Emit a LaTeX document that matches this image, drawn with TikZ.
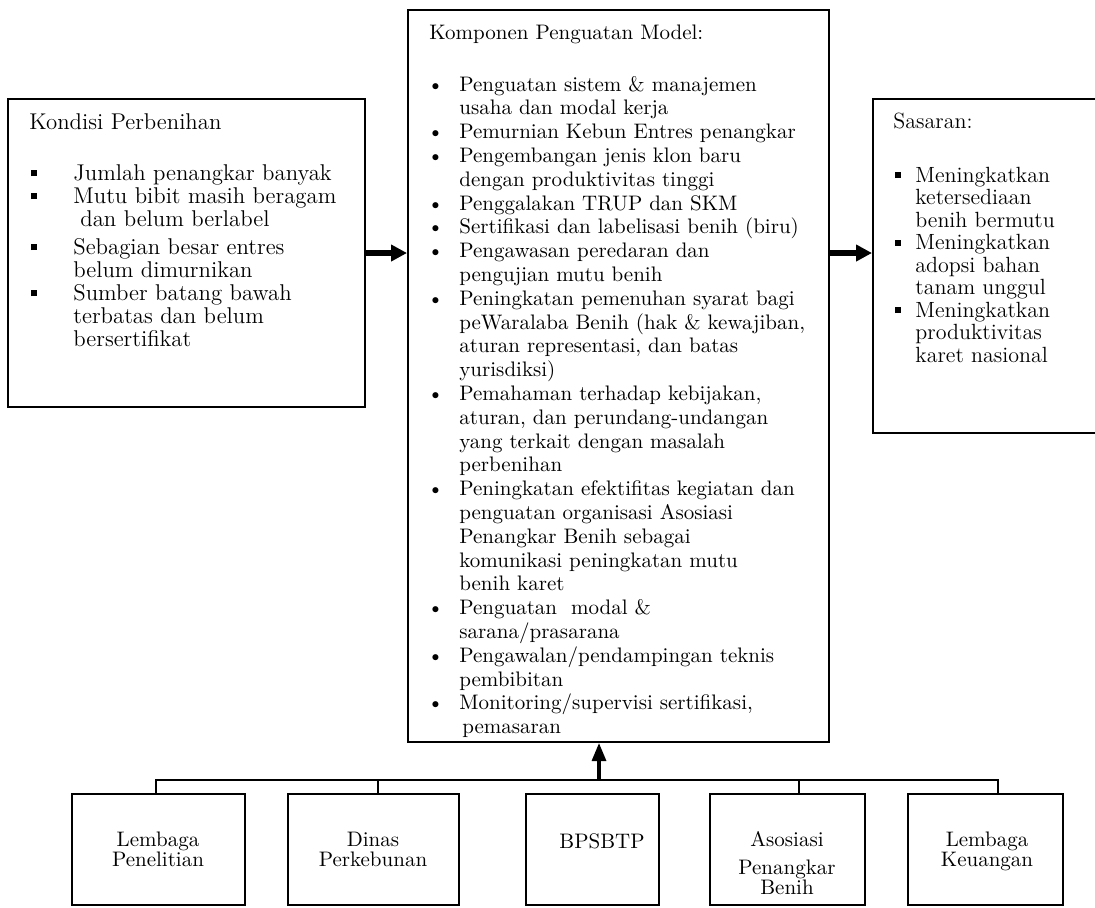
\documentclass[tikz,border=0pt]{standalone}
\usetikzlibrary{arrows.meta}
\tikzset{
  box/.style={draw, line width=1pt, inner sep=0pt},
  txt/.style={anchor=base west, inner sep=0pt},
  btxt/.style={anchor=base, inner sep=0pt},
  fatarrow/.style={line width=2.7pt, -{Triangle[length=8pt,width=8pt]}},
  uparrow/.style={line width=1.6pt, -{Triangle[length=9pt,width=7pt]}},
  bus/.style={line width=1pt},
}
\newcommand{\sqb}{\rule[2pt]{2.9pt}{2.9pt}}
\newcommand{\fLeft}{\fontsize{11.4}{11.5}\selectfont}
\newcommand{\fMid}{\fontsize{10.5}{11.9}\selectfont}
\newcommand{\fRight}{\fontsize{11}{11.25}\selectfont}
\newcommand{\fBot}{\fontsize{10.5}{9.5}\selectfont}
\begin{document}
\begin{tikzpicture}[x=0.5pt,y=-0.5pt]
\useasboundingbox (0,0) rectangle (1095,907);
% main boxes
\node[box, minimum width=178.5pt, minimum height=154pt] (kond) at (186.5,253) {};
\node[box, minimum width=210.5pt, minimum height=366pt] (comp) at (618.5,376) {};
\node[box, minimum width=120pt, minimum height=167pt] (sas) at (993,266) {};
% left text
\node[txt, font=\fLeft] (kondT) at (29,129) {Kondisi Perbenihan};
\node[txt] (kondL) at (30.5,180) {\fLeft\begin{tabular}[t]{@{}p{21.25pt}@{}l@{}}
\sqb & Jumlah penangkar banyak\\
\sqb & Mutu bibit masih beragam\\
 & \hspace{3.5pt}dan belum berlabel\\[2.5pt]
\sqb & Sebagian besar entres\\
 & belum dimurnikan\\
\sqb & Sumber batang bawah\\
 & terbatas dan belum\\
 & bersertifikat
\end{tabular}};
% center text
\node[txt, font=\fMid] (compT) at (429,39) {Komponen Penguatan Model:};
\node[txt] (compL) at (427,91) {\fMid\begin{tabular}[t]{@{}p{16pt}@{}l@{}}
\textbullet & Penguatan sistem \& manajemen\\
 & usaha dan modal kerja\\
\textbullet & Pemurnian Kebun Entres penangkar\\
\textbullet & Pengembangan jenis klon baru\\
 & dengan produktivitas tinggi\\
\textbullet & Penggalakan TRUP dan SKM\\
\textbullet & Sertifikasi dan labelisasi benih (biru)\\
\textbullet & Pengawasan peredaran dan\\
 & pengujian mutu benih\\
\textbullet & Peningkatan pemenuhan syarat bagi\\
 & peWaralaba Benih (hak \& kewajiban,\\
 & aturan representasi, dan batas\\
 & yurisdiksi)\\
\textbullet & Pemahaman terhadap kebijakan,\\
 & aturan, dan perundang-undangan\\
 & yang terkait dengan masalah\\
 & perbenihan\\
\textbullet & Peningkatan efektifitas kegiatan dan\\
 & penguatan organisasi Asosiasi\\
 & Penangkar Benih sebagai\\
 & komunikasi peningkatan mutu\\
 & benih karet\\
\textbullet & Penguatan\ \ modal \&\\
 & sarana/prasarana\\
\textbullet & Pengawalan/pendampingan teknis\\
 & pembibitan\\
\textbullet & Monitoring/supervisi sertifikasi,\\
 & \hspace{1.5pt}pemasaran
\end{tabular}};
% right text
\node[txt, font=\fRight] (sasT) at (893,128) {Sasaran:};
\node[txt] (sasL) at (894.5,182) {\fRight\begin{tabular}[t]{@{}p{10.25pt}@{}l@{}}
\sqb & Meningkatkan\\
 & ketersediaan\\
 & benih bermutu\\
\sqb & Meningkatkan\\
 & adopsi bahan\\
 & tanam unggul\\
\sqb & Meningkatkan\\
 & produktivitas\\
 & karet nasional
\end{tabular}};
% bottom boxes
\node[box, minimum width=86.5pt, minimum height=55.5pt] (b1) at (158.5,849.5) {};
\node[box, minimum width=85.5pt, minimum height=55.5pt] (b2) at (373.5,849.5) {};
\node[box, minimum width=66.5pt, minimum height=55.5pt] (b3) at (592.5,849.5) {};
\node[box, minimum width=77.5pt, minimum height=55.5pt] (b4) at (787.5,849.5) {};
\node[box, minimum width=77.5pt, minimum height=55.5pt] (b5) at (985.5,849.5) {};
\node[btxt] (b1t) at (158,846) {\fBot\begin{tabular}[t]{@{}c@{}}Lembaga\\Penelitian\end{tabular}};
\node[btxt] (b2t) at (373,846) {\fBot\begin{tabular}[t]{@{}c@{}}Dinas\\Perkebunan\end{tabular}};
\node[btxt] (b3t) at (602,848) {\fBot BPSBTP};
\node[btxt] (b4t) at (787,846) {\fBot\begin{tabular}[t]{@{}c@{}}Asosiasi\\[4pt]Penangkar\\Benih\end{tabular}};
\node[btxt] (b5t) at (987,846) {\fBot\begin{tabular}[t]{@{}c@{}}Lembaga\\Keuangan\end{tabular}};
% bus
\coordinate (j1) at (156,780);
\coordinate (j2) at (378,780);
\coordinate (hub) at (599,780);
\coordinate (j4) at (799,780);
\coordinate (j5) at (998,780);
\draw[bus] (j1 |- b1.north) -- (j1) -- (j5) -- (j5 |- b5.north);
\draw[bus] (j2) -- (j2 |- b2.north);
\draw[bus] (j4) -- (j4 |- b4.north);
\draw[uparrow] (hub) -- (hub |- comp.south);
% side arrows
\draw[fatarrow] (kond.east) -- (comp.west |- kond.east);
\draw[fatarrow] (comp.east |- kond.east) -- (sas.west |- kond.east);
\end{tikzpicture}
\end{document}
